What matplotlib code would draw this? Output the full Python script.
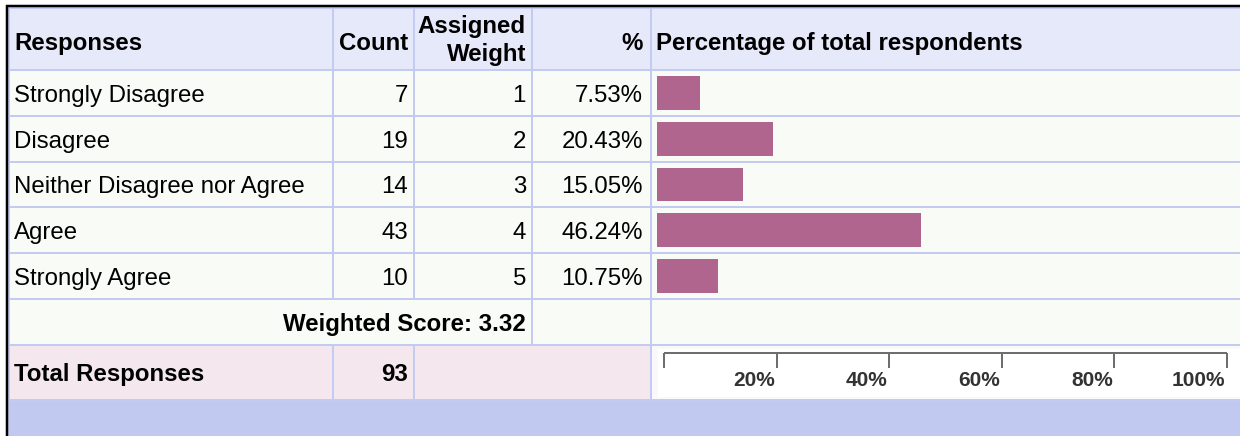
import matplotlib
matplotlib.use("Agg")
import matplotlib.pyplot as plt
from matplotlib.patches import Rectangle

# ---------------- data ----------------
responses = ["Strongly Disagree", "Disagree", "Neither Disagree nor Agree", "Agree", "Strongly Agree"]
counts = [7, 19, 14, 43, 10]
weights = [1, 2, 3, 4, 5]
percents = [7.53, 20.43, 15.05, 46.24, 10.75]
weighted_score = 3.32
total_responses = 93
scale_ticks = [0, 20, 40, 60, 80, 100]
scale_labels = ["", "20%", "40%", "60%", "80%", "100%"]

# ---------------- style ----------------
W, H = 1240, 436
FONT = "Liberation Sans"
FS = 17.3
HEADER_BG = "#e6e9fa"
ROW_BG = "#f9fbf6"
TOTAL_BG = "#f4e8ee"
GRID = "#c3cbf0"
BAND = "#c1c9f1"
BAR = "#b0658f"
PX = 0.72  # points per pixel at dpi 100

plt.rcParams["font.family"] = [FONT, "DejaVu Sans"]

fig = plt.figure(figsize=(W / 100, H / 100), dpi=100)
fig.patch.set_facecolor("white")
ax = fig.add_axes([0, 0, 1, 1])
ax.set_xlim(0, W)
ax.set_ylim(H, 0)
ax.axis("off")

# column edges and row edges (pixel layout)
cx = [8, 333, 414, 532, 651, W]
ry = [8, 70, 116, 162, 207, 253, 299, 345, 400]

def rect(x0, y0, x1, y1, c):
    ax.add_patch(Rectangle((x0, y0), x1 - x0, y1 - y0, facecolor=c, edgecolor="none", zorder=1))

# backgrounds
rect(cx[0], ry[0], W, ry[1], HEADER_BG)
rect(cx[0], ry[1], W, ry[7], ROW_BG)
rect(cx[0], ry[7], cx[4], ry[8], TOTAL_BG)
rect(cx[4], ry[7], W, ry[8], "#f9f9fb")
rect(658, 349, W, 397, "white")
rect(cx[0], ry[8], W, H, BAND)

# grid lines
glw = 2 * PX
for y in ry[1:]:
    ax.plot([cx[0], W], [y, y], color=GRID, lw=glw, zorder=2, solid_capstyle="butt")
ax.plot([cx[0], W], [8, 8], color=GRID, lw=glw, zorder=2)
ax.plot([9, 9], [8, ry[8]], color=GRID, lw=glw, zorder=2)
for x in (cx[1], cx[2]):
    ax.plot([x, x], [ry[0], ry[6]], color=GRID, lw=glw, zorder=2)
    ax.plot([x, x], [ry[7], ry[8]], color=GRID, lw=glw, zorder=2)
ax.plot([cx[3], cx[3]], [ry[0], ry[7]], color=GRID, lw=glw, zorder=2)
ax.plot([cx[4], cx[4]], [ry[0], ry[8]], color=GRID, lw=glw, zorder=2)

# black outer border (top, left)
ax.plot([6, W], [6, 6], color="black", lw=2.5 * PX, zorder=3, solid_capstyle="butt")
ax.plot([7, 7], [5, H], color="black", lw=2.5 * PX, zorder=3, solid_capstyle="butt")

# header texts
hb = 50
ax.text(14, hb, "Responses", fontsize=FS, fontweight="bold", va="baseline", ha="left", zorder=4)
ax.text(408, hb, "Count", fontsize=FS, fontweight="bold", va="baseline", ha="right", zorder=4)
ax.text(526, 33, "Assigned", fontsize=FS, fontweight="bold", va="baseline", ha="right", zorder=4)
ax.text(526, 61, "Weight", fontsize=FS, fontweight="bold", va="baseline", ha="right", zorder=4)
ax.text(643, hb, "%", fontsize=FS, fontweight="bold", va="baseline", ha="right", zorder=4)
ax.text(656, hb, "Percentage of total respondents", fontsize=FS, fontweight="bold",
        va="baseline", ha="left", zorder=4)

# data rows
for i, (r, c, w, p) in enumerate(zip(responses, counts, weights, percents)):
    base = (ry[i + 1] + ry[i + 2]) / 2 + 8.5
    ax.text(14, base, r, fontsize=FS, va="baseline", ha="left", zorder=4)
    ax.text(408, base, f"{c}", fontsize=FS, va="baseline", ha="right", zorder=4)
    ax.text(526, base, f"{w}", fontsize=FS, va="baseline", ha="right", zorder=4)
    ax.text(643, base, f"{p:.2f}%", fontsize=FS, va="baseline", ha="right", zorder=4)

# weighted score row
base = (ry[6] + ry[7]) / 2 + 8.5
ax.text(526, base, f"Weighted Score: {weighted_score:.2f}", fontsize=FS, fontweight="bold",
        va="baseline", ha="right", zorder=4)

# total row
base = (ry[7] + ry[8]) / 2 + 8.5
ax.text(14, base, "Total Responses", fontsize=FS, fontweight="bold", va="baseline", ha="left", zorder=4)
ax.text(408, base, f"{total_responses}", fontsize=FS, fontweight="bold", va="baseline", ha="right", zorder=4)

# ---------------- bars ----------------
bx0, bx1 = 657, 1227
by0, by1 = ry[1], ry[6]
axb = fig.add_axes([bx0 / W, (H - by1) / H, (bx1 - bx0) / W, (by1 - by0) / H])
axb.set_xlim(0, 100)
axb.set_ylim(len(percents) - 0.5, -0.5)
axb.axis("off")
axb.patch.set_alpha(0)
axb.barh(range(len(percents)), percents, height=0.74, color=BAR, edgecolor="none")

# ---------------- scale ruler ----------------
sx0, sx1 = 664, 1227
sy0, sy1 = 353, 368
axr = fig.add_axes([sx0 / W, (H - sy1) / H, (sx1 - sx0) / W, (sy1 - sy0) / H])
axr.set_xlim(0, 100)
axr.set_ylim(0, 1)
axr.axis("off")
axr.patch.set_alpha(0)
axr.hlines(1, scale_ticks[0], scale_ticks[-1], color="#6e6e6e", lw=2 * PX, clip_on=False)
axr.vlines(scale_ticks, 0, 1, color="#6e6e6e", lw=2 * PX, clip_on=False)
for t, lab in zip(scale_ticks, scale_labels):
    if lab:
        axr.text(t - 0.3, -1.2, lab, fontsize=15, fontweight="bold", color="#333333",
                 ha="right", va="baseline", clip_on=False)

fig.savefig("out.png", dpi=100)
